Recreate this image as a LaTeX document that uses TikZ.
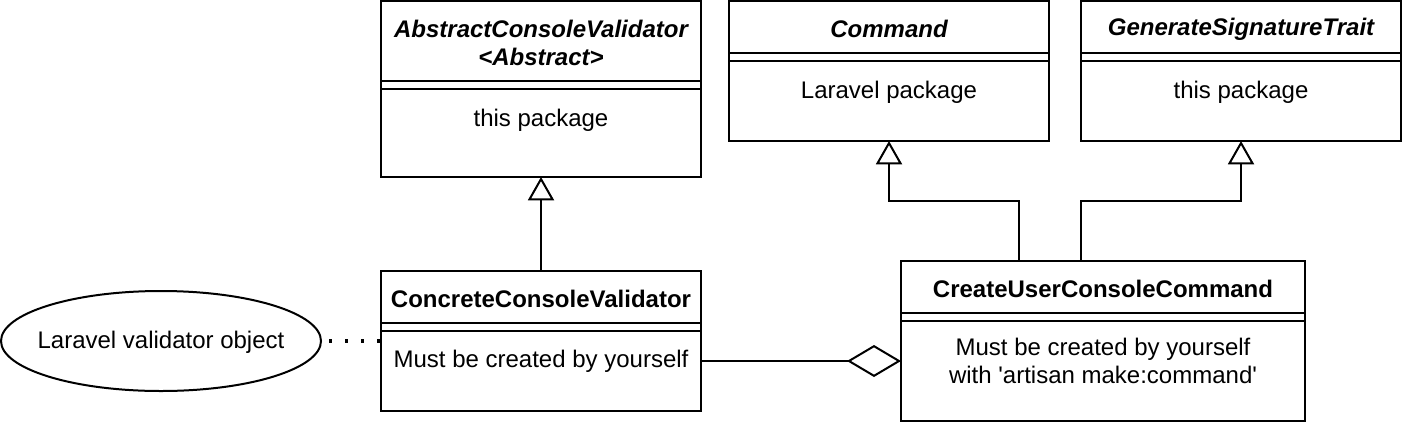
\documentclass[tikz,border=0pt]{standalone}
\usepackage{fontspec}
\setmainfont{Liberation Sans}
\usetikzlibrary{shapes.geometric,arrows.meta}
\begin{document}
\begin{tikzpicture}[x=0.75pt,y=-0.75pt, line width=1.5pt,
  box/.style={draw, rectangle, anchor=north west, inner sep=0pt, outer sep=0pt, minimum width=240pt},
  ttl/.style={font=\fontsize{18}{21}\selectfont\bfseries, align=center, inner sep=0pt},
  ttli/.style={ttl, font=\fontsize{18}{21}\selectfont\bfseries\itshape},
  txt/.style={font=\fontsize{18}{21}\selectfont, align=center, inner sep=0pt},
  gen/.style={-{Triangle[open, length=17.5pt, width=19.5pt]}},
  agg/.style={-{Diamond[open, length=40.5pt, width=24pt]}},
  dotline/.style={line width=2.6pt, dash pattern=on 2.6pt off 9.4pt, dash phase=6pt}
]
\useasboundingbox (0,0) rectangle (1402,422);

% Abstract class
\node[box, minimum height=132pt] (abs) at (381,1) {};
\draw (381,81) -- (701,81) (381,89) -- (701,89);
\node[ttli] (absT) at (541,43) {AbstractConsoleValidator\\<Abstract>};
\node[txt] (absB) at (541,120) {this package};

% Command
\node[box, minimum height=105pt] (cmd) at (729,1) {};
\draw (729,53) -- (1049,53) (729,61) -- (1049,61);
\node[ttli] (cmdT) at (889,29) {Command};
\node[txt] (cmdB) at (889,92) {Laravel package};

% Trait
\node[box, minimum height=105pt] (trt) at (1081,1) {};
\draw (1081,53) -- (1401,53) (1081,61) -- (1401,61);
\node[ttli] (trtT) at (1241,29) {GenerateSignatureTrait};
\node[txt] (trtB) at (1241,92) {this package};

% Concrete
\node[box, minimum height=105pt] (conc) at (381,271) {};
\draw (381,323) -- (701,323) (381,331) -- (701,331);
\node[ttl] (concT) at (541,299) {ConcreteConsoleValidator};
\node[txt] (concB) at (541,361) {Must be created by yourself};

% CreateUser
\node[box, minimum width=303pt, minimum height=120pt] (cu) at (901,261) {};
\draw (901,313) -- (1305,313) (901,321) -- (1305,321);
\node[ttl] (cuT) at (1103,289) {CreateUserConsoleCommand};
\node[txt] (cuB) at (1103,361) {Must be created by yourself\\with \textquotesingle artisan make:command\textquotesingle};

% Ellipse
\node[draw, ellipse, minimum width=240pt, minimum height=75pt, inner sep=0pt, outer sep=0pt] (ell) at (161,341) {};
\node[txt] (ellT) at (161,342) {Laravel validator object};

% Connectors
\draw[gen] (conc.north) -- (abs.south);
\draw[gen] ([xshift=88.5pt]cu.north west) -- ++(0,-60) -| (cmd.south);
\draw[gen] ([xshift=135pt]cu.north west) -- ++(0,-60) -| (trt.south);
\draw[agg] ([yshift=-15pt]conc.east) -- ([yshift=-15pt]cu.west);
\draw[dotline] (ell.east) -- (conc.west);
\end{tikzpicture}
\end{document}
